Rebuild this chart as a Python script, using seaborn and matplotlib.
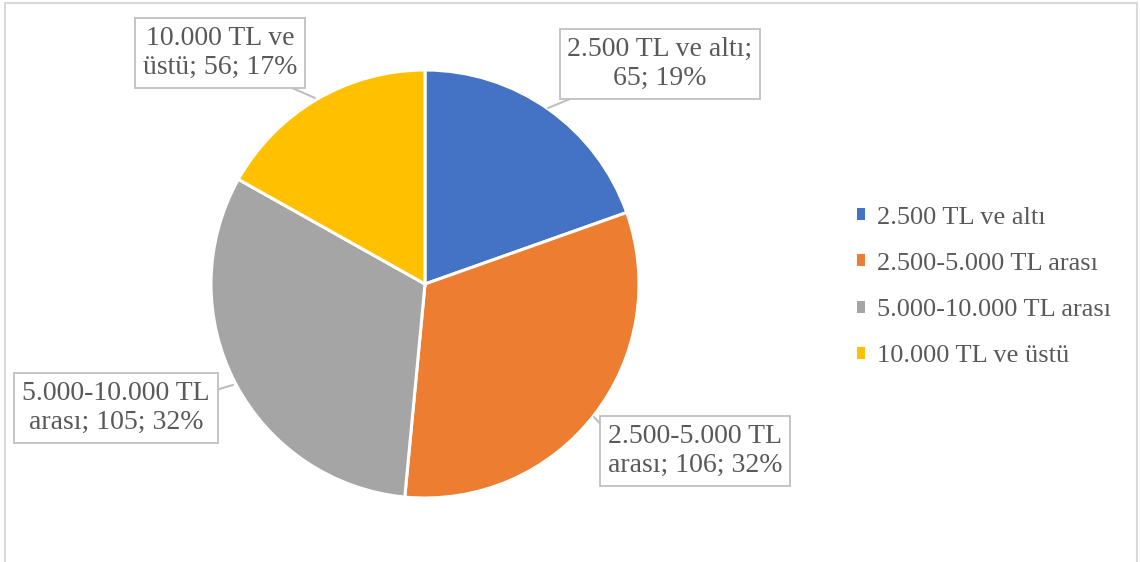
import matplotlib
matplotlib.use("Agg")
import matplotlib.pyplot as plt
import seaborn as sns
from matplotlib.patches import Rectangle

categories = ["2.500 TL ve altı", "2.500-5.000 TL arası", "5.000-10.000 TL arası", "10.000 TL ve üstü"]
values = [65, 106, 105, 56]
percents = [19, 32, 32, 17]
label_texts = ["2.500 TL ve altı;\n65; 19%",
               "2.500-5.000 TL\narası; 106; 32%",
               "5.000-10.000 TL\narası; 105; 32%",
               "10.000 TL ve\nüstü; 56; 17%"]
colors = ["#4472C4", "#ED7D31", "#A5A5A5", "#FFC000"]

sns.set_theme(style="white")
plt.rcParams['font.family'] = ['Liberation Serif', 'DejaVu Serif']

W, H = 1140, 562
fig = plt.figure(figsize=(W / 100, H / 100), dpi=100)
ax = fig.add_axes([0, 0, 1, 1])

cx, cy, r = 425, H - 284, 214
wedges, _ = ax.pie(values, colors=colors, startangle=90, counterclock=False,
                   center=(cx, cy), radius=r, frame=True,
                   wedgeprops=dict(edgecolor='white', linewidth=2.2))
ax.set_xlim(0, W)
ax.set_ylim(0, H)
ax.set_aspect('equal')
ax.axis('off')

txt_color = "#595959"
# text centre (px), pointer tip (px), relpos
boxes = [((660, 64), (548, 108), (0.12, 0.0)),
         ((695, 451), (594, 417), (0.0, 0.85)),
         ((116, 408), (233, 385), (1.0, 0.8)),
         ((220, 53), (315, 98), (0.85, 0.0))]
for txt, (c, tip, rp) in zip(label_texts, boxes):
    ax.annotate(txt, xy=(tip[0], H - tip[1]), xytext=(c[0], H - c[1]),
                ha='center', va='center', fontsize=20, color=txt_color,
                linespacing=1.22,
                bbox=dict(boxstyle='square,pad=0.28', fc='white', ec='#BFBFBF', lw=1.3),
                arrowprops=dict(arrowstyle='-', color='#BFBFBF', lw=1.5,
                                relpos=rp, shrinkA=0, shrinkB=0))

handles = [Rectangle((0, 0), 1, 1, fc=c, ec='none') for c in colors]
leg = fig.legend(handles, categories, loc='center left',
                 bbox_to_anchor=(833 / W, 1 - 287 / H), frameon=False,
                 fontsize=19, handlelength=0.32, handleheight=0.32,
                 handletextpad=0.45, labelspacing=0.92, labelcolor=txt_color)

fig.patches.append(Rectangle((5 / W, -0.05), (1137 - 5) / W, 1.05 - 3 / H,
                             transform=fig.transFigure, fill=False,
                             ec='#D9D9D9', lw=1.5, clip_on=False))

fig.savefig("out.png", dpi=100)
